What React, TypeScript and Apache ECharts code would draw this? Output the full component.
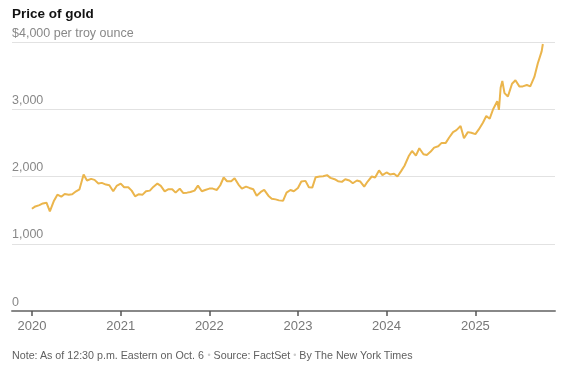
import React, { useEffect, useRef } from "react";
import * as echarts from "echarts";

// Semi-monthly gold prices (1st and 15th of each month), USD per troy ounce
const prices2020 = [1520, 1555, 1575, 1600, 1610, 1480, 1640, 1730, 1700, 1740, 1730, 1735, 1780, 1810, 2030, 1940, 1965, 1950, 1895, 1905, 1880, 1870, 1780, 1860];
const prices2021 = [1895, 1840, 1840, 1790, 1705, 1735, 1730, 1780, 1790, 1845, 1895, 1860, 1780, 1810, 1810, 1760, 1820, 1755, 1760, 1770, 1790, 1865, 1780, 1800];
const prices2022 = [1820, 1820, 1800, 1870, 1985, 1930, 1930, 1975, 1880, 1820, 1850, 1830, 1810, 1715, 1770, 1800, 1715, 1670, 1660, 1645, 1640, 1760, 1800, 1780];
const prices2023 = [1830, 1925, 1935, 1840, 1835, 1990, 2000, 2005, 2020, 1980, 1960, 1930, 1920, 1960, 1940, 1900, 1940, 1925, 1850, 1925, 2000, 1985, 2090, 2020];
const prices2024 = [2060, 2030, 2040, 2000, 2080, 2160, 2300, 2380, 2310, 2420, 2330, 2320, 2370, 2430, 2450, 2500, 2500, 2580, 2660, 2690, 2750, 2570, 2660, 2650];
const dates2025 = ["2025-01-01", "2025-01-15", "2025-02-01", "2025-02-15", "2025-03-01", "2025-03-15", "2025-04-01", "2025-04-08", "2025-04-15", "2025-04-22", "2025-05-01", "2025-05-15", "2025-06-01", "2025-06-15", "2025-07-01", "2025-07-15", "2025-08-01", "2025-08-15", "2025-09-01", "2025-09-15", "2025-10-01", "2025-10-06"];
const prices2025 = [2630, 2700, 2800, 2900, 2860, 3000, 3120, 2990, 3320, 3420, 3240, 3190, 3380, 3430, 3340, 3340, 3360, 3340, 3480, 3680, 3860, 3970];

const yearList = [2020, 2021, 2022, 2023, 2024];
const yearPrices = [prices2020, prices2021, prices2022, prices2023, prices2024];

const yTicks = [0, 1000, 2000, 3000, 4000];
const title = "Price of gold";
const unitLabel = "$4,000 per troy ounce";

function halfMonthDates(year: number): string[] {
  const out: string[] = [];
  for (let m = 1; m <= 12; m++) {
    const mm = String(m).padStart(2, "0");
    out.push(`${year}-${mm}-01`, `${year}-${mm}-15`);
  }
  return out;
}

export default function App() {
  const ref = useRef<HTMLDivElement>(null);
  useEffect(() => {
    if (!ref.current) return;
    const chart = echarts.init(ref.current, null, { renderer: "svg" });
    const data: [string, number][] = [];
    yearList.forEach((y, i) => {
      const ds = halfMonthDates(y);
      ds.forEach((d, j) => data.push([d, yearPrices[i][j]]));
    });
    dates2025.forEach((d, j) => data.push([d, prices2025[j]]));

    const font = "'Liberation Sans', Arial, sans-serif";
    const DAY = 24 * 3600 * 1000;
    const xMin = new Date("2020-01-01T00:00:00").getTime() - 82 * DAY;
    const xMax = new Date("2025-11-25T00:00:00").getTime();

    chart.setOption({
      animation: false,
      grid: { left: 12, right: 17, top: 42, bottom: 54 },
      graphic: [
        {
          type: "text",
          x: 12,
          y: 13,
          style: { text: title, font: `bold 13.5px ${font}`, fill: "#121212", verticalAlign: "middle" },
        },
        {
          type: "text",
          x: 12,
          y: 355,
          style: {
            text: "Note: As of 12:30 p.m. Eastern on Oct. 6 {b|•} Source: FactSet {b|•} By The New York Times",
            font: `10.7px ${font}`,
            fill: "#5f5f5f",
            verticalAlign: "middle",
            rich: { b: { fill: "#ccc", fontSize: 9, fontFamily: font } },
          },
        },
      ],
      xAxis: {
        type: "time",
        min: xMin,
        max: xMax,
        minInterval: 365 * DAY,
        maxInterval: 366 * DAY,
        axisLine: { show: true, lineStyle: { color: "#888", width: 2 } },
        axisTick: { show: true, length: 5, lineStyle: { color: "#555", width: 1.5 } },
        axisLabel: {
          formatter: "{yyyy}",
          color: "#777",
          fontSize: 13,
          fontFamily: font,
          margin: 8,
          showMinLabel: false,
        },
        splitLine: { show: false },
      },
      yAxis: {
        type: "value",
        min: yTicks[0],
        max: yTicks[yTicks.length - 1],
        interval: 1000,
        axisLine: { show: false },
        axisTick: { show: false },
        splitLine: { lineStyle: { color: "#e2e2e2", width: 1 } },
        axisLabel: {
          inside: true,
          margin: 0,
          verticalAlign: "bottom",
          padding: [0, 0, 3, 0],
          color: "#888",
          fontSize: 12.5,
          fontFamily: font,
          formatter: (v: number) =>
            v === 4000 ? unitLabel : v === 0 ? "0" : v.toLocaleString("en-US"),
        },
      },
      series: [
        {
          type: "line",
          data,
          showSymbol: false,
          lineStyle: { color: "#EBB54C", width: 2 },
          z: 3,
        },
      ],
    });
    return () => chart.dispose();
  }, []);
  return (
    <div
      ref={ref}
      style={{ position: "fixed", left: 0, top: 0, width: 572, height: 365 }}
    />
  );
}
